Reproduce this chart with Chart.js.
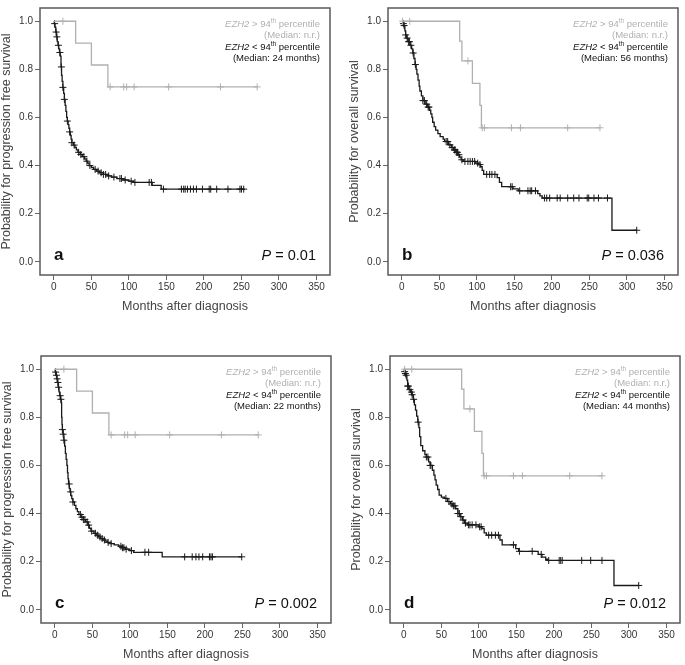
<!DOCTYPE html>
<html>
<head>
<meta charset="utf-8">
<script src="https://cdn.jsdelivr.net/npm/chart.js@4.4.1/dist/chart.umd.min.js"></script>
<style>
  html, body { margin: 0; padding: 0; background: #fff; overflow: hidden; }
  body { width: 685px; height: 665px; position: relative; }
  canvas { position: absolute; }
</style>
</head>
<body>
<canvas id="panelA" width="336" height="317" style="left:-1px;top:0px"></canvas>
<canvas id="panelB" width="336" height="317" style="left:347px;top:0px"></canvas>
<canvas id="panelC" width="336" height="317" style="left:0px;top:348px"></canvas>
<canvas id="panelD" width="336" height="317" style="left:349px;top:348px"></canvas>
<script>
// axis ticks
const xTicks = [0, 50, 100, 150, 200, 250, 300, 350];
const yTicks = [0, 0.2, 0.4, 0.6, 0.8, 1.0];

// EZH2 > 94th percentile (gray), [months, survival]
const highPfsEvents = [[29, 0.909], [50, 0.818], [72, 0.727]];
const highPfsCensor = [12, 75, 93, 97, 107, 153, 222, 271];
const highOsEvents = [[77, 0.917], [80, 0.835], [94, 0.742], [104, 0.65], [106, 0.557]];
const highOsCensor = [1, 10.5, 88, 107, 110, 146, 158, 221, 264];

// EZH2 < 94th percentile (black)
const aLowEvents = [[0.5,0.99],[1.5,0.975],[2.5,0.955],[3.5,0.935],[4.5,0.915],[5.5,0.9],[6.5,0.885],[7.5,0.87],
  [8.5,0.855],[9.5,0.81],[10.2,0.775],[11,0.75],[12,0.725],[13,0.70],[14,0.675],[15,0.65],[16,0.625],[17,0.60],
  [18,0.585],[19,0.57],[20,0.555],[21,0.54],[22,0.525],[23,0.51],[24,0.495],[26,0.485],[28,0.475],[30,0.465],
  [32,0.455],[35,0.446],[38,0.437],[41,0.428],[43,0.418],[45,0.41],[47,0.40],[50,0.392],[53,0.384],[57,0.377],
  [61,0.37],[66,0.363],[71,0.357],[77,0.352],[84,0.346],[92,0.34],[100,0.335],[106,0.33],[131,0.318],[143,0.302]];
const aLowCensor = [1, 3, 4, 6, 8, 10, 12, 14, 18, 21, 24, 27, 33, 36, 40, 44, 48, 55, 59, 63, 66, 69, 73, 80, 88,
  90, 95, 103, 108, 127, 130, 146, 170, 173, 175, 178, 182, 186, 190, 198, 207, 209, 217, 232, 248, 250, 253];

const bLowEvents = [[1,0.99],[2.5,0.982],[4,0.96],[5,0.943],[6.5,0.93],[8,0.915],[11,0.9],[13,0.885],[14.5,0.868],
  [16,0.845],[17.5,0.82],[19,0.8],[20,0.78],[21.5,0.755],[23,0.73],[24,0.71],[26,0.69],[28,0.67],[31,0.655],
  [34,0.643],[37,0.63],[38.5,0.615],[40,0.6],[41,0.58],[43,0.562],[45,0.547],[48,0.533],[51,0.52],[55,0.51],
  [57,0.5],[62,0.486],[66,0.475],[69,0.465],[72,0.455],[75,0.445],[77,0.435],[79,0.424],[82,0.417],[98,0.41],
  [102,0.404],[105,0.395],[107,0.38],[109,0.363],[127,0.35],[130,0.33],[133,0.312],[148,0.303],[155,0.295],
  [181,0.283],[184,0.274],[187,0.265],[280,0.131]];
const bLowCensor = [2, 3, 5, 7, 9, 10, 12, 15, 18, 28, 30, 33, 35, 36, 59, 61, 64, 67, 70, 71, 73, 74, 76, 80, 84,
  88, 91, 94, 97, 101, 104, 113, 117, 120, 124, 145, 147, 157, 168, 171, 173, 178, 190, 193, 197, 207, 211, 221,
  229, 236, 247, 249, 256, 262, 274, 313];

const cLowEvents = [[0.5,0.988],[1.5,0.975],[2.5,0.96],[3.5,0.945],[4.5,0.925],[5.5,0.906],[6.5,0.89],[7.5,0.875],
  [8.5,0.86],[9,0.8],[9.5,0.77],[10,0.749],[11,0.73],[12,0.705],[13,0.68],[14,0.65],[15,0.625],[16,0.6],[16.8,0.57],
  [17.5,0.545],[18.2,0.523],[19.2,0.505],[20.2,0.49],[21.2,0.475],[22.5,0.462],[24,0.448],[26,0.434],[28,0.42],
  [30,0.408],[32,0.396],[35,0.385],[38,0.375],[41,0.365],[44,0.352],[46,0.339],[48,0.327],[52,0.318],[55,0.31],
  [58,0.303],[61,0.296],[64,0.29],[67,0.285],[70,0.28],[74,0.275],[79,0.27],[85,0.264],[90,0.258],[94,0.252],
  [100,0.246],[105,0.239],[143,0.22]];
const cLowCensor = [1, 2, 3, 4, 5, 7, 8, 10, 11, 12, 19, 21, 24, 34, 36, 38, 40, 43, 45, 49, 54, 57, 60, 63, 66, 71,
  75, 88, 90, 92, 95, 102, 120, 125, 173, 183, 188, 192, 197, 206, 208, 210, 249];

const dLowEvents = [[0.5,0.99],[1.5,0.982],[2.5,0.975],[4,0.955],[5,0.93],[7,0.915],[9,0.905],[11,0.894],
  [12.5,0.875],[14,0.852],[15.5,0.83],[17,0.805],[18.5,0.78],[20,0.757],[21,0.72],[22.5,0.682],[25,0.661],
  [28,0.645],[30,0.635],[33,0.615],[35,0.6],[38,0.58],[40,0.56],[41.5,0.54],[43,0.518],[45,0.5],[47,0.477],
  [50,0.468],[54,0.463],[58,0.45],[62,0.44],[65,0.432],[69,0.42],[72,0.4],[75,0.387],[78,0.373],[81,0.36],
  [85,0.353],[100,0.345],[104,0.337],[107,0.32],[110,0.31],[128,0.29],[131,0.27],[149,0.254],[153,0.243],
  [179,0.23],[184,0.219],[189,0.21],[192,0.205],[280,0.101]];
const dLowCensor = [1, 2, 3, 5, 6, 8, 10, 11, 13, 19, 30, 32, 35, 36, 56, 60, 64, 66, 68, 72, 74, 76, 79, 82, 86, 88,
  91, 96, 101, 103, 113, 117, 122, 126, 146, 154, 171, 183, 193, 207, 209, 211, 237, 249, 264, 313];

// panel texts
const panelLetters = ['a', 'b', 'c', 'd'];
const pValues = ['0.01', '0.036', '0.002', '0.012'];
const lowMedians = ['24', '56', '22', '44'];
const yTitles = ['Probability for progression free survival', 'Probability for overall survival',
  'Probability for progression free survival', 'Probability for overall survival'];

const FONT = "'Liberation Sans', Arial, sans-serif";
const GRAY = '#b0b0b0';
const BLACK = '#1a1a1a';

// survival value of the step curve at time t
function survivalAt(events, t) {
  let s = 1;
  for (const [et, es] of events) {
    if (et <= t) s = es;
  }
  return s;
}

function curvePoints(events, censor) {
  const pts = [{ x: 0, y: 1 }];
  events.forEach(([t, s]) => pts.push({ x: t, y: s }));
  const tEnd = Math.max(...censor, events[events.length - 1][0]);
  pts.push({ x: tEnd, y: survivalAt(events, tEnd) });
  return pts;
}

function censorPoints(events, censor) {
  return censor.map(t => ({ x: t, y: survivalAt(events, t) }));
}

// draws pieces of text right aligned at xRight
function drawRuns(ctx, runs, xRight, y, color) {
  let total = 0;
  runs.forEach(r => { ctx.font = r.f; r.w = ctx.measureText(r.t).width; total += r.w; });
  let x = xRight - total;
  ctx.fillStyle = color;
  ctx.textAlign = 'left';
  ctx.textBaseline = 'middle';
  runs.forEach(r => {
    ctx.font = r.f;
    ctx.fillText(r.t, x, y + (r.dy || 0));
    x += r.w;
  });
}

const panelPlugin = {
  id: 'panelText',
  afterDraw(chart, args, opts) {
    const { ctx, chartArea: a } = chart;
    ctx.save();
    ctx.strokeStyle = '#5a5a5a';
    ctx.lineWidth = 1.5;
    ctx.strokeRect(a.left, a.top, a.right - a.left, a.bottom - a.top);

    const norm = '9.5px ' + FONT;
    const ital = 'italic 9.5px ' + FONT;
    const sup = '6.5px ' + FONT;
    const xr = a.right - 10;
    const y0 = a.top + 16.5;
    const step = 11.3;
    drawRuns(ctx, [{ t: 'EZH2', f: ital }, { t: ' > 94', f: norm }, { t: 'th', f: sup, dy: -3 },
      { t: ' percentile', f: norm }], xr, y0, GRAY);
    drawRuns(ctx, [{ t: '(Median: n.r.)', f: norm }], xr, y0 + step, GRAY);
    drawRuns(ctx, [{ t: 'EZH2', f: ital }, { t: ' < 94', f: norm }, { t: 'th', f: sup, dy: -3 },
      { t: ' percentile', f: norm }], xr, y0 + step * 2, '#111');
    drawRuns(ctx, [{ t: '(Median: ' + opts.median + ' months)', f: norm }], xr, y0 + step * 3, '#111');

    ctx.font = 'bold 17px ' + FONT;
    ctx.fillStyle = '#111';
    ctx.textAlign = 'left';
    ctx.textBaseline = 'middle';
    ctx.fillText(opts.letter, a.left + 14, a.bottom - 20);

    drawRuns(ctx, [{ t: 'P', f: 'italic 14.5px ' + FONT }, { t: ' = ' + opts.p, f: '14.5px ' + FONT }],
      a.right - 14, a.bottom - 19.5, '#111');
    ctx.restore();
  }
};

function makePanel(id, idx, highEvents, highCensor, lowEvents, lowCensor) {
  new Chart(document.getElementById(id), {
    type: 'scatter',
    data: {
      datasets: [
        { data: curvePoints(highEvents, highCensor), showLine: true, stepped: 'before',
          borderColor: GRAY, borderWidth: 1.3, pointRadius: 0 },
        { data: censorPoints(highEvents, highCensor), showLine: false, pointStyle: 'cross',
          pointRadius: 3.5, borderColor: GRAY, borderWidth: 1 },
        { data: curvePoints(lowEvents, lowCensor), showLine: true, stepped: 'before',
          borderColor: BLACK, borderWidth: 1.3, pointRadius: 0 },
        { data: censorPoints(lowEvents, lowCensor), showLine: false, pointStyle: 'cross',
          pointRadius: 3.5, borderColor: BLACK, borderWidth: 1 }
      ]
    },
    options: {
      responsive: false,
      animation: false,
      events: [],
      layout: { padding: { top: 4, right: 2, left: 0, bottom: 0 } },
      plugins: {
        legend: { display: false },
        tooltip: { enabled: false },
        panelText: { letter: panelLetters[idx], p: pValues[idx], median: lowMedians[idx] }
      },
      scales: {
        x: {
          type: 'linear',
          min: -18.5,
          max: 368,
          afterBuildTicks: s => { s.ticks = xTicks.map(v => ({ value: v })); },
          afterFit: s => { s.height = 42; },
          ticks: { color: '#333', font: { family: FONT, size: 10 }, padding: 1, maxRotation: 0,
            autoSkip: false, callback: v => String(v) },
          grid: { display: true, drawOnChartArea: false, drawTicks: true, tickLength: 5, color: '#666' },
          border: { display: false },
          title: { display: true, text: 'Months after diagnosis', color: '#444',
            font: { family: FONT, size: 12.5 }, padding: { top: 0, bottom: 2.5 } }
        },
        y: {
          min: -0.055,
          max: 1.055,
          afterBuildTicks: s => { s.ticks = yTicks.map(v => ({ value: v })); },
          afterFit: s => { s.width = 41; },
          ticks: { color: '#333', font: { family: FONT, size: 10 }, padding: 2, autoSkip: false,
            callback: v => v.toFixed(1) },
          grid: { display: true, drawOnChartArea: false, drawTicks: true, tickLength: 5, color: '#666' },
          border: { display: false },
          title: { display: true, text: yTitles[idx], color: '#444',
            font: { family: FONT, size: 12.5 }, padding: { top: 0, bottom: 0 } }
        }
      }
    },
    plugins: [panelPlugin]
  });
}

makePanel('panelA', 0, highPfsEvents, highPfsCensor, aLowEvents, aLowCensor);
makePanel('panelB', 1, highOsEvents, highOsCensor, bLowEvents, bLowCensor);
makePanel('panelC', 2, highPfsEvents, highPfsCensor, cLowEvents, cLowCensor);
makePanel('panelD', 3, highOsEvents, highOsCensor, dLowEvents, dLowCensor);
</script>
</body>
</html>
